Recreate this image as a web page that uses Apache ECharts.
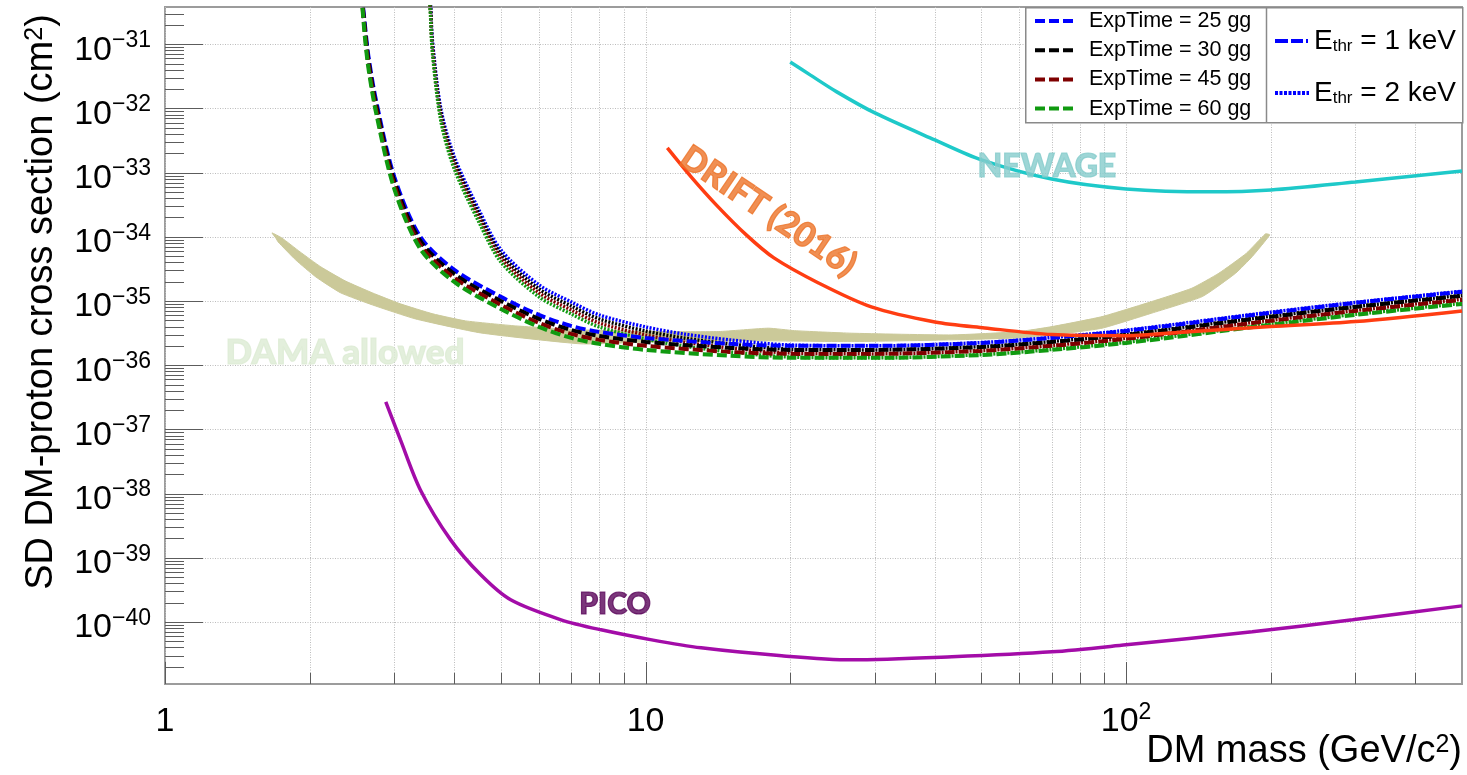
<!DOCTYPE html>
<html>
<head>
<meta charset="utf-8">
<title>SD DM-proton cross section</title>
<script src="https://cdn.jsdelivr.net/npm/echarts@6/dist/echarts.min.js"></script>
<style>
html,body{margin:0;padding:0;background:#ffffff;overflow:hidden;}
#chart{width:1467px;height:775px;}
</style>
</head>
<body>
<div id="chart"></div>
<script>
// ---------------- axis ranges (data values) ----------------
const xAxisMin = 1, xAxisMax = 500;
const yAxisMin = 1.08e-41, yAxisMax = 3.8e-31;

// ---------------- tick labels ----------------
const xTickValues = [1, 10, 100];
const xTickBase = ['1', '10', '10'];
const xTickExp = ['', '', '2'];
const xMinorTickValues = [2, 3, 4, 5, 6, 7, 8, 9, 20, 30, 40, 50, 60, 70, 80, 90, 200, 300, 400];
const yTickExponents = [-40, -39, -38, -37, -36, -35, -34, -33, -32, -31];

// ---------------- legend names ----------------
const expTimeNames = ['ExpTime = 25 gg', 'ExpTime = 30 gg', 'ExpTime = 45 gg', 'ExpTime = 60 gg'];
const ethrNames = ['E_thr = 1 keV', 'E_thr = 2 keV'];

// ---------------- E_thr = 1 keV curves (dashed) ----------------
const massE1 = [2.55, 2.6, 2.65, 2.75, 3, 3.4, 4, 5, 6, 7, 8, 10, 15, 20, 30, 50, 70, 100, 200, 300, 500];
const e1_25gg = [1.0e-30, 2.39e-31, 6.57e-32, 1.31e-32, 8.57e-34, 9.96e-35, 3.05e-35, 1.16e-35, 6.07e-36, 4.09e-36, 3.30e-36, 2.66e-36, 2.15e-36, 2.00e-36, 2.00e-36, 2.22e-36, 2.66e-36, 3.42e-36, 6.53e-36, 9.34e-36, 1.39e-35];
const e1_30gg = [1.0e-30, 2.07e-31, 5.69e-32, 1.13e-32, 7.42e-34, 8.63e-35, 2.64e-35, 1.00e-35, 5.26e-36, 3.54e-36, 2.86e-36, 2.30e-36, 1.86e-36, 1.73e-36, 1.73e-36, 1.92e-36, 2.30e-36, 2.96e-36, 5.66e-36, 8.09e-36, 1.20e-35];
const e1_45gg = [1.0e-30, 1.79e-31, 4.93e-32, 9.80e-33, 6.43e-34, 7.47e-35, 2.29e-35, 8.70e-36, 4.55e-36, 3.07e-36, 2.48e-36, 2.00e-36, 1.61e-36, 1.50e-36, 1.50e-36, 1.67e-36, 2.00e-36, 2.57e-36, 4.90e-36, 7.00e-36, 1.04e-35];
const e1_60gg = [1.0e-30, 1.55e-31, 4.27e-32, 8.50e-33, 5.57e-34, 6.47e-35, 1.98e-35, 7.50e-36, 3.95e-36, 2.66e-36, 2.15e-36, 1.73e-36, 1.40e-36, 1.30e-36, 1.30e-36, 1.44e-36, 1.73e-36, 2.22e-36, 4.24e-36, 6.07e-36, 9.00e-36];

// ---------------- E_thr = 2 keV curves (dotted) ----------------
const massE2 = [3.53, 3.57, 3.6, 3.75, 4, 4.5, 5, 6, 7, 8, 10, 12, 15, 20, 30, 50, 70, 100, 200, 300, 500];
const e2_25gg = [1.0e-30, 4.09e-31, 1.17e-31, 9.82e-33, 1.76e-33, 2.62e-34, 6.25e-35, 1.78e-35, 9.68e-36, 6.07e-36, 3.94e-36, 3.06e-36, 2.47e-36, 2.06e-36, 2.00e-36, 2.25e-36, 2.70e-36, 3.50e-36, 6.70e-36, 9.50e-36, 1.42e-35];
const e2_30gg = [1.0e-30, 3.54e-31, 1.01e-31, 8.50e-33, 1.52e-33, 2.27e-34, 5.41e-35, 1.54e-35, 8.38e-36, 5.26e-36, 3.41e-36, 2.65e-36, 2.14e-36, 1.78e-36, 1.73e-36, 1.95e-36, 2.34e-36, 3.03e-36, 5.80e-36, 8.20e-36, 1.23e-35];
const e2_45gg = [1.0e-30, 3.07e-31, 8.80e-32, 7.40e-33, 1.32e-33, 1.97e-34, 4.69e-35, 1.34e-35, 7.26e-36, 4.55e-36, 2.96e-36, 2.30e-36, 1.85e-36, 1.55e-36, 1.50e-36, 1.69e-36, 2.03e-36, 2.63e-36, 5.00e-36, 7.10e-36, 1.07e-35];
const e2_60gg = [1.0e-30, 2.66e-31, 7.60e-32, 6.40e-33, 1.14e-33, 1.70e-34, 4.06e-35, 1.16e-35, 6.29e-36, 3.95e-36, 2.56e-36, 1.99e-36, 1.61e-36, 1.34e-36, 1.30e-36, 1.46e-36, 1.76e-36, 2.28e-36, 4.36e-36, 6.20e-36, 9.20e-36];

// ---------------- other experiments ----------------
const newageMass = [20, 22, 25, 30, 40, 50, 70, 100, 150, 200, 300, 500];
const newageXsec = [5.30e-32, 3.33e-32, 1.81e-32, 8.5e-33, 3.23e-33, 1.58e-33, 7.93e-34, 5.57e-34, 5.01e-34, 5.37e-34, 7.16e-34, 1.06e-33];

const driftMass = [11.1, 12.44, 14.03, 16.2, 18.5, 22.9, 29.5, 40, 50.8, 70, 100, 133, 200, 300, 500];
const driftXsec = [2.42e-33, 8.57e-34, 3.14e-34, 1.07e-34, 4.69e-35, 1.91e-35, 8.1e-36, 4.72e-36, 3.81e-36, 3.0e-36, 2.88e-36, 3.30e-36, 3.99e-36, 4.78e-36, 7.0e-36];

const picoMass = [2.88, 3.09, 3.40, 3.93, 4.54, 5.24, 6.67, 8.08, 10.3, 13.05, 19.2, 26.8, 43.4, 70.1, 100, 183, 296, 500];
const picoXsec = [2.68e-37, 6.85e-38, 1.14e-38, 1.90e-39, 5.42e-40, 2.21e-40, 1.08e-40, 7.54e-41, 5.26e-41, 3.95e-41, 2.97e-41, 2.57e-41, 2.86e-41, 3.42e-41, 4.40e-41, 7.02e-41, 1.08e-40, 1.78e-40];

// DAMA allowed region contour (upper edge left->right, then lower edge right->left)
const damaMass = [1.67, 1.75, 1.91, 2.11, 2.37, 2.70, 3.09, 3.61, 4.22, 5.37, 7.34, 10.3, 14.2, 18.0, 20.4, 26.8, 43.4, 59.8, 70.1, 89.1, 113, 137, 156, 178, 195,
                  199, 183, 169, 144, 113, 89.1, 70.1, 59.8, 43.4, 26.8, 16.6, 10.3, 7.34, 4.54, 3.32, 2.70, 2.32, 2.06, 1.87, 1.72, 1.70];
const damaXsec = [1.15e-34, 9.6e-35, 5.82e-35, 3.40e-35, 2.06e-35, 1.34e-35, 9.02e-36, 6.3e-36, 4.9e-36, 4.09e-36, 3.55e-36, 3.34e-36, 3.34e-36, 3.77e-36, 3.45e-36, 3.15e-36, 2.96e-36, 3.34e-36, 3.99e-36, 5.71e-36, 9.79e-36, 1.58e-35, 2.71e-35, 5.55e-35, 1.11e-34,
                  1.07e-34, 4.92e-35, 2.71e-35, 1.17e-35, 6.46e-36, 3.77e-36, 2.96e-36, 2.66e-36, 2.48e-36, 2.33e-36, 2.40e-36, 2.30e-36, 2.15e-36, 3.18e-36, 5.26e-36, 8.7e-36, 1.34e-35, 2.37e-35, 4.37e-35, 8.3e-35, 9.6e-35];

// ---------------- helpers ----------------
const L = v => Math.log10(v);
const pts = (xs, ys) => xs.map((x, i) => [L(x), L(ys[i])]);

const FONT = '"Liberation Sans", Arial, Helvetica, sans-serif';
const LABEL_FONT = 'Lato, "Open Sans", sans-serif';

function curve(name, xs, ys, color, width, dash, z) {
  return {
    type: 'line', name: name, data: pts(xs, ys), showSymbol: false, symbol: 'none',
    smooth: 0.3, clip: true, silent: true, z: z || 3,
    lineStyle: { color: color, width: width, type: dash || 'solid' },
    itemStyle: { color: color }
  };
}

// y minor ticks: 2..9 x each decade inside the range
const yMinorTickValues = [];
for (let d = -42; d <= -31; d++) {
  for (let k = 2; k <= 9; k++) {
    const v = k * Math.pow(10, d);
    if (v > yAxisMin && v < yAxisMax) yMinorTickValues.push(v);
  }
}

function frameRender(params, api) {
  const cs = params.coordSys;
  const left = cs.x, top = cs.y, bottom = cs.y + cs.height, right = cs.x + cs.width;
  const ch = [];
  const gridStyle = { stroke: '#bcbcbc', lineWidth: 1, lineDash: [1, 1.5] };
  const tickStyle = { stroke: '#5c5c5c', lineWidth: 1 };
  xMinorTickValues.forEach(v => {
    const px = Math.round(api.coord([L(v), L(yAxisMin)])[0]) + 0.5;
    ch.push({ type: 'line', shape: { x1: px, y1: top, x2: px, y2: bottom }, style: gridStyle });
    ch.push({ type: 'line', shape: { x1: px, y1: bottom, x2: px, y2: bottom - 11 }, style: tickStyle });
  });
  xTickValues.forEach(v => {
    const px = Math.round(api.coord([L(v), L(yAxisMin)])[0]) + 0.5;
    ch.push({ type: 'line', shape: { x1: px, y1: top, x2: px, y2: bottom }, style: gridStyle });
    ch.push({ type: 'line', shape: { x1: px, y1: bottom, x2: px, y2: bottom - 22 }, style: tickStyle });
  });
  yTickExponents.forEach(e => {
    const py = Math.round(api.coord([0, e])[1]) + 0.5;
    ch.push({ type: 'line', shape: { x1: left, y1: py, x2: right, y2: py }, style: gridStyle });
    ch.push({ type: 'line', shape: { x1: left, y1: py, x2: left + 38, y2: py }, style: tickStyle });
  });
  yMinorTickValues.forEach(v => {
    const py = Math.round(api.coord([0, L(v)])[1]) + 0.5;
    ch.push({ type: 'line', shape: { x1: left, y1: py, x2: left + 19, y2: py }, style: tickStyle });
  });
  return { type: 'group', children: ch };
}

function damaRender(params, api) {
  const points = damaMass.map((m, i) => api.coord([L(m), L(damaXsec[i])]));
  return { type: 'polygon', shape: { points: points, smooth: 0.15 }, style: { fill: '#cbc999', stroke: '#cbc999', lineWidth: 1 } };
}

function textMark(text, mass, xsec, color, size, rotate) {
  return {
    type: 'scatter', data: [[L(mass), L(xsec)]], symbolSize: 1, silent: true, z: 6,
    itemStyle: { color: 'rgba(0,0,0,0)' },
    label: { show: true, position: 'inside', formatter: text, color: color, fontSize: size,
             fontWeight: 900, fontFamily: LABEL_FONT, rotate: rotate || 0,
             textBorderColor: color, textBorderWidth: 1.2 }
  };
}

const rich = {
  b: { fontSize: 34, fontFamily: FONT, color: '#000', lineHeight: 52 },
  e: { fontSize: 23, fontFamily: FONT, color: '#000', verticalAlign: 'top', lineHeight: 52, padding: [5, 0, 0, 0] }
};

const dash1 = [10, 4];
const dot2 = [2, 1.5];

const option = {
  animation: false,
  backgroundColor: '#ffffff',
  grid: { left: 165, right: 5, top: 7, bottom: 91, show: true, borderColor: '#9c9c9c', borderWidth: 2, backgroundColor: 'transparent' },
  xAxis: {
    type: 'value', min: L(xAxisMin), max: L(xAxisMax), splitNumber: 3,
    axisLine: { show: false }, axisTick: { show: false }, splitLine: { show: false },
    axisLabel: {
      margin: 12, hideOverlap: false,
      formatter: v => {
        const i = xTickValues.findIndex(t => Math.abs(L(t) - v) < 1e-6);
        if (i < 0) return '';
        return '{b|' + xTickBase[i] + '}' + (xTickExp[i] ? '{e|' + xTickExp[i] + '}' : '');
      },
      rich: rich
    }
  },
  yAxis: {
    type: 'value', min: L(yAxisMin), max: L(yAxisMax), splitNumber: 10,
    axisLine: { show: false }, axisTick: { show: false }, splitLine: { show: false },
    axisLabel: {
      margin: 14, hideOverlap: false, padding: [12, 0, 0, 0],
      formatter: v => {
        const n = Math.round(v);
        if (Math.abs(v - n) > 1e-6 || yTickExponents.indexOf(n) < 0) return '';
        return '{b|10}{e|\u2212' + Math.abs(n) + '}';
      },
      rich: rich
    }
  },
  legend: [
    {
      data: expTimeNames, left: 1033, top: 10, orient: 'vertical', padding: 0, z: 20,
      itemWidth: 42, itemHeight: 12, itemGap: 7.2, selectedMode: false,
      itemStyle: { opacity: 0 }, lineStyle: { width: 4 },
      textStyle: { fontSize: 21.5, lineHeight: 22, fontFamily: FONT, color: '#000', padding: [0, 0, 0, 7] }
    },
    {
      data: ethrNames, left: 1273, top: 27, orient: 'vertical', padding: 0, z: 20,
      itemWidth: 34, itemHeight: 12, itemGap: 24, selectedMode: false,
      itemStyle: { opacity: 0 }, lineStyle: { width: 4 },
      formatter: name => name === ethrNames[0] ? '{m|E}{s|thr}{m| = 1 keV}' : '{m|E}{s|thr}{m| = 2 keV}',
      textStyle: {
        fontSize: 28, lineHeight: 28, fontFamily: FONT, color: '#000',
        rich: {
          m: { fontSize: 28, fontFamily: FONT, color: '#000', lineHeight: 28 },
          s: { fontSize: 17, fontFamily: FONT, color: '#000', verticalAlign: 'bottom', lineHeight: 28 }
        }
      }
    }
  ],
  graphic: [
    { type: 'rect', left: 1025, top: 7, z: 10, silent: true, shape: { width: 437, height: 115 }, style: { fill: '#fff', stroke: '#8a8a8a', lineWidth: 1.5 } },
    { type: 'line', z: 11, silent: true, shape: { x1: 1266.5, y1: 7, x2: 1266.5, y2: 122 }, style: { stroke: '#8a8a8a', lineWidth: 1.5 } },
    { type: 'text', x: 42, y: 302, rotation: Math.PI / 2, z: 60, silent: true,
      style: { text: 'SD DM-proton cross section (cm{s|2})', fontSize: 38, fontFamily: FONT, fill: '#000',
               align: 'center', verticalAlign: 'middle',
               rich: { s: { fontSize: 25, fontFamily: FONT, fill: '#000', verticalAlign: 'top' } } } },
    { type: 'text', x: 1462, y: 752, z: 60, silent: true,
      style: { text: 'DM mass (GeV/c{s|2})', fontSize: 38, fontFamily: FONT, fill: '#000',
               align: 'right', verticalAlign: 'middle',
               rich: { s: { fontSize: 25, fontFamily: FONT, fill: '#000', verticalAlign: 'top' } } } }
  ],
  series: [
    { type: 'custom', name: 'frame', data: [[0, -36]], renderItem: frameRender, silent: true, z: 1 },
    { type: 'custom', name: 'DAMA allowed', data: [[L(damaMass[0]), L(damaXsec[0])]], renderItem: damaRender, silent: true, z: 2 },
    curve('PICO', picoMass, picoXsec, '#a30ca8', 3.5, 'solid'),
    curve('NEWAGE', newageMass, newageXsec, '#1ec9c9', 3.5, 'solid'),
    curve('ExpTime = 25 gg (2 keV)', massE2, e2_25gg, '#0000ff', 3.5, dot2),
    curve('ExpTime = 30 gg (2 keV)', massE2, e2_30gg, '#000000', 3.5, dot2),
    curve('ExpTime = 45 gg (2 keV)', massE2, e2_45gg, '#7f0000', 3.5, dot2),
    curve('ExpTime = 60 gg (2 keV)', massE2, e2_60gg, '#109a10', 3.5, dot2),
    curve(expTimeNames[0], massE1, e1_25gg, '#0000ff', 4, dash1),
    curve(expTimeNames[1], massE1, e1_30gg, '#000000', 4, dash1),
    curve(expTimeNames[2], massE1, e1_45gg, '#7f0000', 4, dash1),
    curve(expTimeNames[3], massE1, e1_60gg, '#109a10', 4, dash1),
    curve('DRIFT (2016)', driftMass, driftXsec, '#ff3d12', 3.5, 'solid'),
    { type: 'line', name: ethrNames[0], data: [], symbol: 'none', lineStyle: { color: '#0000ff', width: 4, type: [13, 3, 12, 3, 2, 10] }, itemStyle: { color: '#0000ff' } },
    { type: 'line', name: ethrNames[1], data: [], symbol: 'none', lineStyle: { color: '#0000ff', width: 4, type: [3, 1.5] }, itemStyle: { color: '#0000ff' } },
    textMark('DAMA allowed', 2.37, 1.56e-36, '#dcebd3', 35, 0),
    textMark('NEWAGE', 68.4, 1.23e-33, '#86cccc', 32, 0),
    textMark('DRIFT (2016)', 18.0, 2.5e-34, '#ec7328', 34, -34),
    textMark('PICO', 8.64, 1.85e-40, '#5a055a', 30, 0)
  ]
};

const chart = echarts.init(document.getElementById('chart'), null, { renderer: 'canvas' });
chart.setOption(option);
</script>
</body>
</html>
